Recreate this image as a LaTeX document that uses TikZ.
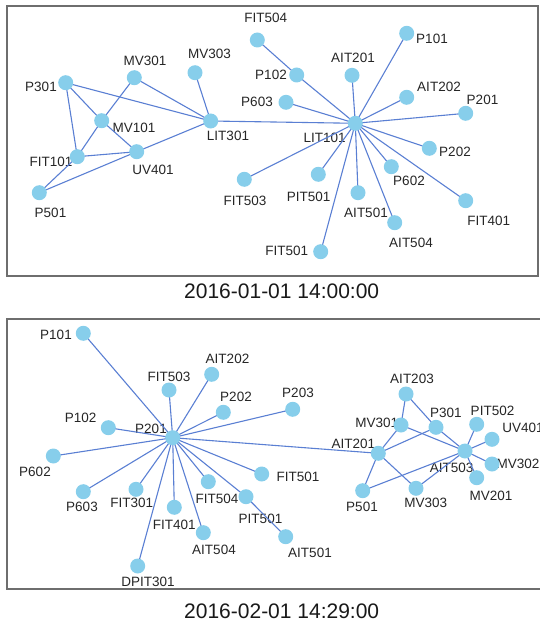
\documentclass[tikz,border=0pt]{standalone}
\usepackage{fontspec}
\setmainfont{Liberation Sans}
\pgfdeclarelayer{bg}
\pgfsetlayers{bg,main}
\definecolor{nodefill}{HTML}{87CEEB}
\definecolor{edgecol}{HTML}{5A7FD3}
\definecolor{framecol}{HTML}{6E6E6E}
\definecolor{labelcol}{HTML}{262626}
\tikzset{
  vtx/.style={circle,fill=nodefill,minimum size=15pt,inner sep=0pt},
  lbl/.style={inner sep=0pt,text=labelcol,font=\fontsize{13.5}{16}\selectfont},
  edge/.style={draw=edgecol,line width=1.1pt},
  frame/.style={draw=framecol,line width=1.3pt},
  stamp/.style={inner sep=0pt,text=black!90,font=\fontsize{21}{25}\selectfont}
}
\begin{document}
\begin{tikzpicture}[x=1pt,y=-1pt]
\useasboundingbox (0,0) rectangle (540,623);
\clip (0,0) rectangle (540,623);

% ---------- panel frames and time stamps ----------
\draw[frame] (7,6) rectangle (538,276);
\draw[frame] (7,319) rectangle (560,589);
\node[stamp] (stampA) at (281.7,291) {2016-01-01 14:00:00};
\node[stamp] (stampB) at (281.7,611) {2016-02-01 14:29:00};

% ---------- first graph: vertices ----------
\node[vtx] (aP301)   at (65.7,82.7) {};
\node[vtx] (aMV301)  at (134.3,77.7) {};
\node[vtx] (aMV303)  at (195,72.7) {};
\node[vtx] (aMV101)  at (101.7,120.7) {};
\node[vtx] (aLIT301) at (210.7,121) {};
\node[vtx] (aFIT101) at (77.3,156.7) {};
\node[vtx] (aUV401)  at (136.7,151.7) {};
\node[vtx] (aP501)   at (39.3,192.7) {};
\node[vtx] (aFIT503) at (244.3,179.3) {};
\node[vtx] (aFIT504) at (257.3,40) {};
\node[vtx] (aP101)   at (406.7,33.3) {};
\node[vtx] (aAIT201) at (352,75.3) {};
\node[vtx] (aP102)   at (296.7,75) {};
\node[vtx] (aAIT202) at (406.7,97.3) {};
\node[vtx] (aP603)   at (286,102.3) {};
\node[vtx] (aP201)   at (465.7,113.3) {};
\node[vtx] (aLIT101) at (355.3,123.3) {};
\node[vtx] (aP202)   at (429.3,148.3) {};
\node[vtx] (aP602)   at (391.3,166.7) {};
\node[vtx] (aPIT501) at (318.3,174.3) {};
\node[vtx] (aAIT501) at (358,192.7) {};
\node[vtx] (aAIT504) at (394.7,222.7) {};
\node[vtx] (aFIT401) at (465.7,200.7) {};
\node[vtx] (aFIT501) at (320.7,251.7) {};

% ---------- second graph: vertices ----------
\node[vtx] (bP101)   at (83.3,333.3) {};
\node[vtx] (bAIT202) at (211.7,374.3) {};
\node[vtx] (bFIT503) at (169,390) {};
\node[vtx] (bP202)   at (223.3,412.3) {};
\node[vtx] (bP203)   at (292.7,409.3) {};
\node[vtx] (bP102)   at (108.3,427.7) {};
\node[vtx] (bP201)   at (172.7,437.7) {};
\node[vtx] (bP602)   at (53.3,456) {};
\node[vtx] (bFIT501) at (261.7,474) {};
\node[vtx] (bFIT504) at (208.3,481.7) {};
\node[vtx] (bPIT501) at (246,496.7) {};
\node[vtx] (bP603)   at (83.3,491.7) {};
\node[vtx] (bFIT301) at (136,489.3) {};
\node[vtx] (bFIT401) at (174.3,507.3) {};
\node[vtx] (bAIT504) at (203.3,532.7) {};
\node[vtx] (bAIT501) at (285.7,536.7) {};
\node[vtx] (bDPIT301) at (137.7,566) {};
\node[vtx] (bAIT203) at (406,394) {};
\node[vtx] (bMV301)  at (401,425) {};
\node[vtx] (bP301)   at (436,427.3) {};
\node[vtx] (bPIT502) at (476.7,424.3) {};
\node[vtx] (bUV401)  at (492,439.3) {};
\node[vtx] (bAIT201) at (378.3,453.3) {};
\node[vtx] (bAIT503) at (465,451) {};
\node[vtx] (bMV302)  at (492,464) {};
\node[vtx] (bMV201)  at (476.7,477.7) {};
\node[vtx] (bP501)   at (362.7,490.7) {};
\node[vtx] (bMV303)  at (416,488.3) {};

\begin{pgfonlayer}{bg}
% ---------- first graph: labels ----------
\node[lbl] (aP301l)   at (41,87) {P301};
\node[lbl] (aMV301l)  at (145,61) {MV301};
\node[lbl] (aMV303l)  at (209.5,54.3) {MV303};
\node[lbl] (aMV101l)  at (134,128.3) {MV101};
\node[lbl] (aLIT301l) at (228,136) {LIT301};
\node[lbl] (aFIT101l) at (51,162.3) {FIT101};
\node[lbl] (aUV401l)  at (153,170) {UV401};
\node[lbl] (aP501l)   at (50.5,213.3) {P501};
\node[lbl] (aFIT503l) at (245,200.7) {FIT503};
\node[lbl] (aFIT504l) at (265.7,18.3) {FIT504};
\node[lbl] (aP101l)   at (432,39) {P101};
\node[lbl] (aAIT201l) at (353,57.7) {AIT201};
\node[lbl] (aP102l)   at (271,75.3) {P102};
\node[lbl] (aAIT202l) at (439,87.3) {AIT202};
\node[lbl] (aP603l)   at (257,102.3) {P603};
\node[lbl] (aP201l)   at (482.5,100) {P201};
\node[lbl] (aLIT101l) at (324.7,138.3) {LIT101};
\node[lbl] (aP202l)   at (455,151.7) {P202};
\node[lbl] (aP602l)   at (409,180.7) {P602};
\node[lbl] (aPIT501l) at (308.7,196.7) {PIT501};
\node[lbl] (aAIT501l) at (366,213.3) {AIT501};
\node[lbl] (aAIT504l) at (411,242.7) {AIT504};
\node[lbl] (aFIT401l) at (488.7,220.7) {FIT401};
\node[lbl] (aFIT501l) at (286.7,250.7) {FIT501};

% ---------- second graph: labels ----------
\node[lbl] (bP101l)   at (56,335) {P101};
\node[lbl] (bAIT202l) at (227.5,359.3) {AIT202};
\node[lbl] (bFIT503l) at (169,376.7) {FIT503};
\node[lbl] (bP202l)   at (236,397.3) {P202};
\node[lbl] (bP203l)   at (298,393.3) {P203};
\node[lbl] (bP102l)   at (80.7,417.7) {P102};
\node[lbl] (bP201l)   at (151,429.3) {P201};
\node[lbl] (bP602l)   at (35,472.3) {P602};
\node[lbl] (bFIT501l) at (298,476.7) {FIT501};
\node[lbl] (bFIT504l) at (217,499.3) {FIT504};
\node[lbl] (bPIT501l) at (260.5,519.3) {PIT501};
\node[lbl] (bP603l)   at (82,507.3) {P603};
\node[lbl] (bFIT301l) at (131.7,503.3) {FIT301};
\node[lbl] (bFIT401l) at (174.3,525) {FIT401};
\node[lbl] (bAIT504l) at (214,550) {AIT504};
\node[lbl] (bAIT501l) at (310,553) {AIT501};
\node[lbl] (bDPIT301l) at (148,581.7) {DPIT301};
\node[lbl] (bAIT203l) at (412,379.3) {AIT203};
\node[lbl] (bMV301l)  at (376.7,423.3) {MV301};
\node[lbl] (bP301l)   at (445.8,412.7) {P301};
\node[lbl] (bPIT502l) at (492.5,411) {PIT502};
\node[lbl] (bUV401l)  at (523,428.3) {UV401};
\node[lbl] (bAIT201l) at (353.3,444) {AIT201};
\node[lbl] (bAIT503l) at (451.7,467.7) {AIT503};
\node[lbl] (bMV302l)  at (518,464) {MV302};
\node[lbl] (bMV201l)  at (491,496) {MV201};
\node[lbl] (bP501l)   at (362,506.7) {P501};
\node[lbl] (bMV303l)  at (425.8,503.3) {MV303};

% ---------- first graph: connectors ----------
\foreach \u/\v in {aP301/aMV101, aP301/aFIT101, aP301/aLIT301,
                   aMV301/aMV101, aMV301/aLIT301, aMV303/aLIT301,
                   aMV101/aFIT101, aMV101/aUV401, aFIT101/aUV401,
                   aFIT101/aP501, aP501/aUV401, aUV401/aLIT301,
                   aLIT301/aLIT101, aFIT504/aP102, aP102/aLIT101,
                   aP101/aLIT101, aAIT201/aLIT101, aAIT202/aLIT101,
                   aP201/aLIT101, aP202/aLIT101, aP602/aLIT101,
                   aFIT401/aLIT101, aAIT504/aLIT101, aAIT501/aLIT101,
                   aPIT501/aLIT101, aFIT501/aLIT101, aFIT503/aLIT101,
                   aP603/aLIT101}
  \draw[edge] (\u.center) -- (\v.center);

% ---------- second graph: connectors ----------
\foreach \u/\v in {bP101/bP201, bFIT503/bP201, bAIT202/bP201,
                   bP202/bP201, bP203/bP201, bP102/bP201,
                   bP602/bP201, bP603/bP201, bFIT301/bP201,
                   bDPIT301/bP201, bFIT401/bP201, bAIT504/bP201,
                   bFIT504/bP201, bPIT501/bP201, bPIT501/bAIT501,
                   bFIT501/bP201, bAIT201/bP201,
                   bAIT203/bMV301, bMV301/bAIT201, bAIT203/bP301,
                   bP301/bAIT503, bMV301/bAIT503, bAIT201/bP301,
                   bAIT201/bP501, bAIT201/bMV303, bP501/bAIT503,
                   bMV303/bAIT503, bAIT503/bPIT502, bAIT503/bUV401,
                   bAIT503/bMV302, bAIT503/bMV201}
  \draw[edge] (\u.center) -- (\v.center);
\end{pgfonlayer}
\end{tikzpicture}
\end{document}
